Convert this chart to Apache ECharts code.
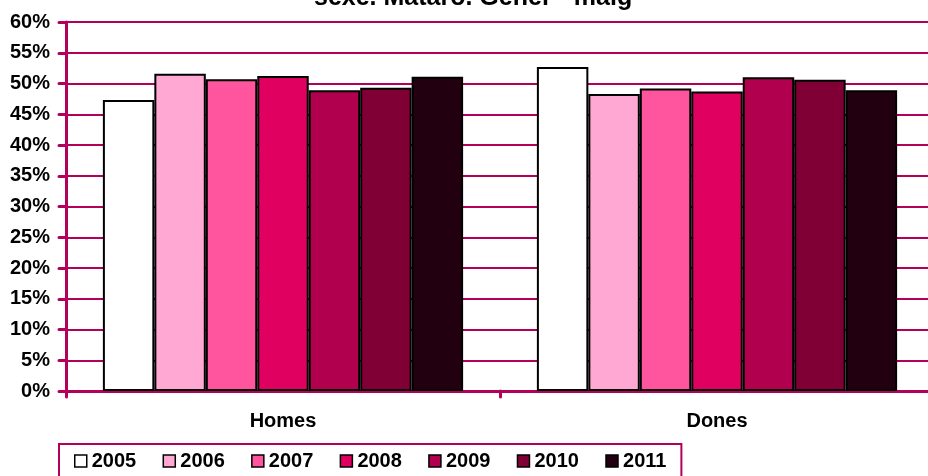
<!DOCTYPE html>
<html>
<head>
<meta charset="utf-8">
<script src="https://cdn.jsdelivr.net/npm/echarts@6/dist/echarts.min.js"></script>
<style>
  html, body { margin: 0; padding: 0; background: #fff; overflow: hidden; }
  #chart { width: 934px; height: 476px; }
</style>
</head>
<body>
<div id="chart"></div>
<script>
// categories and years
const categories = ['Homes', 'Dones'];
const years = ['2005', '2006', '2007', '2008', '2009', '2010', '2011'];

// share (%) per year
const homes = [47.3, 51.6, 50.7, 51.2, 48.9, 49.3, 51.1];
const dones = [52.7, 48.3, 49.2, 48.7, 51.0, 50.6, 48.9];

const palette = ['#FFFFFF', '#FFA8D3', '#FF559F', '#E00060', '#B0004E', '#800036', '#220010'];
const lineColor = '#B3005A';
const font = '"Liberation Sans", Arial, sans-serif';

// the plot runs a few pixels past the right edge of the picture
const chart = echarts.init(document.getElementById('chart'), null, { renderer: 'canvas' });

const series = years.map((year, i) => ({
  type: 'bar',
  name: year,
  data: [homes[i], dones[i]],
  barGap: 0,
  barCategoryGap: '17%',
  itemStyle: {
    color: palette[i],
    borderColor: '#000',
    borderWidth: 2,
  },
}));

chart.setOption({
  backgroundColor: '#fff',
  animation: false,
  title: {
    text: 'sexe. Mataró. Gener - maig',
    left: 309,
    top: -19,
    textStyle: {
      fontFamily: font,
      fontWeight: 'bold',
      fontSize: 25,
      color: '#000',
    },
  },
  legend: {
    left: 59,
    top: 444,
    padding: [7, 15, 20, 15],
    itemWidth: 12,
    itemHeight: 12,
    itemGap: 26.3,
    borderColor: lineColor,
    borderWidth: 2,
    icon: 'rect',
    textStyle: {
      fontFamily: font,
      fontWeight: 'bold',
      fontSize: 20,
      color: '#000',
    },
    itemStyle: {
      borderColor: '#000',
      borderWidth: 1.5,
    },
  },
  grid: {
    left: 66,
    right: 0,
    top: 22,
    bottom: 85,
  },
  xAxis: {
    type: 'category',
    data: categories,
    axisLine: {
      lineStyle: { color: lineColor, width: 3 },
    },
    axisTick: {
      show: true,
      length: 6,
      lineStyle: { color: lineColor, width: 3, cap: 'round' },
    },
    axisLabel: {
      margin: 20,
      fontFamily: font,
      fontWeight: 'bold',
      fontSize: 20,
      color: '#000',
    },
  },
  yAxis: {
    type: 'value',
    min: 0,
    max: 60,
    interval: 5,
    axisLine: {
      show: true,
      lineStyle: { color: lineColor, width: 3 },
    },
    axisTick: {
      show: true,
      length: 7,
      lineStyle: { color: lineColor, width: 3, cap: 'round' },
    },
    splitLine: {
      lineStyle: { color: lineColor, width: 2 },
    },
    axisLabel: {
      margin: 16,
      formatter: '{value}%',
      fontFamily: font,
      fontWeight: 'bold',
      fontSize: 20,
      color: '#000',
    },
  },
  series,
});
</script>
</body>
</html>
